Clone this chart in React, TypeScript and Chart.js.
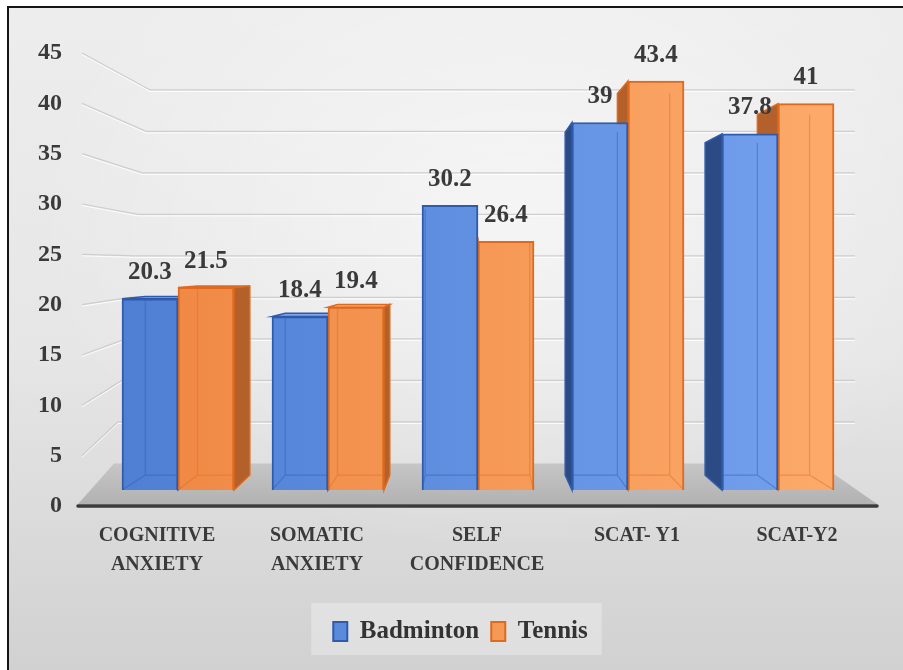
import { useEffect, useRef } from 'react';
import { Chart, registerables } from 'chart.js';

Chart.register(...registerables);

// ---- data ----
const categories: string[][] = [
  ['COGNITIVE', 'ANXIETY'],
  ['SOMATIC', 'ANXIETY'],
  ['SELF', 'CONFIDENCE'],
  ['SCAT- Y1'],
  ['SCAT-Y2'],
];
const seriesNames = ['Badminton', 'Tennis'];
const badminton = [20.3, 18.4, 30.2, 39, 37.8];
const tennis = [21.5, 19.4, 26.4, 43.4, 41];
const yTickMin = 0;
const yTickMax = 45;
const yTickStep = 5;

// ---- style / geometry constants ----
const FONT = 'Liberation Serif';
const TEXT = '#3a3a3a';
const VP = { x: 470, y: 267 }; // perspective vanishing point
const BAR_DEPTH = 0.933;
const WALL_DEPTH = 0.881;
const sideColors = ['#2c4b84', '#b3602a'];
const topColors = ['#7ea6ec', '#f9b07a'];
const borderColors = ['#2e5bab', '#dd6a1e'];

function proj(px: number, py: number, s: number): [number, number] {
  return [VP.x + s * (px - VP.x), VP.y + s * (py - VP.y)];
}

function makeFill(c0: string, c1: string) {
  return (ctx: any) => {
    const chart = ctx.chart;
    const a = chart.chartArea;
    if (!a) return c0;
    const g = chart.ctx.createLinearGradient(a.left, 0, a.right, 0);
    g.addColorStop(0, c0);
    g.addColorStop(1, c1);
    return g;
  };
}

const scenePlugin = {
  id: 'scene3d',
  afterLayout(chart: any) {
    const lg = chart.legend;
    if (lg) {
      lg.left += 22;
      lg.right += 22;
    }
  },
  beforeDraw(chart: any) {
    const lg = chart.legend;
    if (!lg || !lg.legendHitBoxes || !lg.legendHitBoxes.length) return;
    const hb = lg.legendHitBoxes;
    const first = hb[0];
    const last = hb[hb.length - 1];
    const ctx = chart.ctx;
    ctx.save();
    ctx.fillStyle = 'rgba(255,255,255,0.30)';
    const l = first.left - 22;
    const r = last.left + last.width + 14;
    const t = first.top - 16;
    ctx.fillRect(l, t, r - l, 52);
    ctx.restore();
  },
  beforeDatasetsDraw(chart: any) {
    const ctx = chart.ctx;
    const yT = chart.scales.y;
    const yB = chart.scales.yb;
    const area = chart.chartArea;
    const frontL = area.left + 1;
    const frontR = area.right;
    const floorFront = yT.getPixelForValue(0) - 2;
    const floorBack = proj(0, yB.getPixelForValue(0), WALL_DEPTH)[1];
    ctx.save();
    // floor
    const fg = ctx.createLinearGradient(0, floorBack, 0, floorFront);
    fg.addColorStop(0, '#c6c6c6');
    fg.addColorStop(1, '#b2b2b2');
    ctx.fillStyle = fg;
    ctx.beginPath();
    ctx.moveTo(frontL, floorFront);
    ctx.lineTo(frontR, floorFront);
    ctx.lineTo(frontR - 58, floorBack);
    ctx.lineTo(frontL + 36, floorBack);
    ctx.closePath();
    ctx.fill();
    // gridlines (left wall + back wall)
    for (let v = yTickMin + yTickStep; v <= yTickMax; v += yTickStep) {
      const fy = yT.getPixelForValue(v);
      const by = proj(0, yB.getPixelForValue(v), WALL_DEPTH)[1];
      const bx = frontL + 36 + (v / yTickMax) * 36;
      ctx.strokeStyle = 'rgba(200,200,200,0.85)';
      ctx.lineWidth = 1.2;
      ctx.beginPath();
      ctx.moveTo(frontL + 4, fy);
      ctx.lineTo(bx, by);
      ctx.lineTo(frontR - 22, by);
      ctx.stroke();
      ctx.strokeStyle = 'rgba(255,255,255,0.85)';
      ctx.lineWidth = 1;
      ctx.beginPath();
      ctx.moveTo(frontL + 4, fy + 1.5);
      ctx.lineTo(bx, by + 1.5);
      ctx.lineTo(frontR - 22, by + 1.5);
      ctx.stroke();
    }
    // axis line
    ctx.strokeStyle = '#3a3a3a';
    ctx.lineWidth = 3.5;
    ctx.lineCap = 'round';
    ctx.beginPath();
    ctx.moveTo(frontL, floorFront + 2);
    ctx.lineTo(frontR, floorFront + 2);
    ctx.stroke();
    // bar side / top faces
    chart.data.datasets.forEach((_ds: any, di: number) => {
      const meta = chart.getDatasetMeta(di);
      meta.data.forEach((bar: any) => {
        const { x, y, base, width } = bar.getProps(['x', 'y', 'base', 'width'], true);
        const x0 = x - width / 2;
        const x1 = x + width / 2;
        const [bx0, by] = proj(x0, y, BAR_DEPTH);
        const [bx1] = proj(x1, y, BAR_DEPTH);
        const [, bb] = proj(x0, base, BAR_DEPTH);
        ctx.fillStyle = sideColors[di];
        ctx.strokeStyle = borderColors[di];
        ctx.lineWidth = 1.5;
        if (bx1 > x1 + 0.5) {
          ctx.beginPath();
          ctx.moveTo(x1, y);
          ctx.lineTo(bx1, by);
          ctx.lineTo(bx1, bb);
          ctx.lineTo(x1, base);
          ctx.closePath();
          ctx.fill();
          ctx.stroke();
        }
        if (bx0 < x0 - 0.5) {
          ctx.beginPath();
          ctx.moveTo(x0, y);
          ctx.lineTo(bx0, by);
          ctx.lineTo(bx0, bb);
          ctx.lineTo(x0, base);
          ctx.closePath();
          ctx.fill();
          ctx.stroke();
        }
        if (by < y - 0.3) {
          ctx.fillStyle = topColors[di];
          ctx.beginPath();
          ctx.moveTo(x0, y);
          ctx.lineTo(x1, y);
          ctx.lineTo(bx1, by);
          ctx.lineTo(bx0, by);
          ctx.closePath();
          ctx.fill();
          ctx.stroke();
        }
      });
    });
    ctx.restore();
  },
  afterDatasetsDraw(chart: any) {
    const ctx = chart.ctx;
    ctx.save();
    chart.data.datasets.forEach((ds: any, di: number) => {
      const meta = chart.getDatasetMeta(di);
      meta.data.forEach((bar: any, i: number) => {
        const { x, y, base, width } = bar.getProps(['x', 'y', 'base', 'width'], true);
        const x0 = x - width / 2;
        const x1 = x + width / 2;
        const [bx0, by] = proj(x0, y, BAR_DEPTH);
        const [bx1] = proj(x1, y, BAR_DEPTH);
        const [, bb] = proj(x0, base, BAR_DEPTH);
        // glass-like back edges
        ctx.save();
        ctx.beginPath();
        ctx.rect(x0, y, width, base - y);
        ctx.clip();
        ctx.strokeStyle = borderColors[di];
        ctx.globalAlpha = 0.45;
        ctx.lineWidth = 1.2;
        ctx.beginPath();
        ctx.moveTo(bx0, Math.max(by, y));
        ctx.lineTo(bx0, bb);
        ctx.lineTo(bx1, bb);
        ctx.lineTo(bx1, Math.max(by, y));
        ctx.moveTo(x0, base);
        ctx.lineTo(bx0, bb);
        ctx.moveTo(x1, base);
        ctx.lineTo(bx1, bb);
        ctx.stroke();
        ctx.restore();
        // value label
        const v = ds.data[i].y;
        ctx.fillStyle = TEXT;
        ctx.font = `bold 25px "${FONT}"`;
        ctx.textAlign = 'center';
        ctx.textBaseline = 'middle';
        ctx.fillText(String(v), x, y - 26);
      });
    });
    ctx.restore();
  },
};

export default function App() {
  const ref = useRef<HTMLCanvasElement>(null);
  useEffect(() => {
    if (!ref.current) return;
    const chart = new Chart(ref.current, {
      type: 'bar',
      data: {
        labels: categories as any,
        datasets: [
          {
            label: seriesNames[0],
            data: badminton.map((v, i) => ({ x: i, y: v })),
            xAxisID: 'xb',
            yAxisID: 'yb',
            backgroundColor: makeFill('#4c7dd2', '#76a3f0') as any,
            borderColor: borderColors[0],
            borderWidth: 2,
            barThickness: 56,
          },
          {
            label: seriesNames[1],
            data: tennis.map((v, i) => ({ x: i, y: v })),
            xAxisID: 'xb',
            yAxisID: 'yb',
            backgroundColor: makeFill('#ee8440', '#fdac6c') as any,
            borderColor: borderColors[1],
            borderWidth: 2,
            barThickness: 56,
          },
        ],
      },
      options: {
        animation: false,
        responsive: false,
        maintainAspectRatio: false,
        layout: { padding: { top: 53, left: 0, right: 26, bottom: 16 } },
        plugins: {
          tooltip: { enabled: false },
          legend: {
            position: 'bottom',
            labels: {
              font: { family: FONT, size: 25, weight: 'bold' },
              color: '#333333',
              boxWidth: 14,
              boxHeight: 19,
              padding: 12,
            },
          },
        },
        scales: {
          x: {
            type: 'category',
            position: 'bottom',
            offset: true,
            grid: { display: false, drawTicks: false },
            border: { display: false },
            ticks: {
              color: TEXT,
              padding: 15,
              autoSkip: false,
              maxRotation: 0,
              font: { family: FONT, size: 20, weight: 'bold', lineHeight: 1.45 },
            },
            afterFit: (s: any) => {
              s.height = 101;
            },
          },
          xb: {
            type: 'linear',
            display: false,
            offset: false,
            grid: { offset: false },
            min: -0.6733,
            max: 4.66,
          },
          y: {
            type: 'linear',
            position: 'left',
            min: yTickMin,
            max: yTickMax,
            grid: { display: false, drawTicks: false },
            border: { display: false },
            ticks: {
              stepSize: yTickStep,
              color: TEXT,
              padding: 15,
              font: { family: FONT, size: 24, weight: 'bold' },
            },
            afterFit: (s: any) => {
              s.width = 77;
            },
          },
          yb: {
            type: 'linear',
            display: false,
            min: -1.7,
            max: 46.38,
          },
        },
      } as any,
      plugins: [scenePlugin],
    });
    return () => chart.destroy();
  }, []);

  return (
    <div
      style={{
        position: 'fixed',
        left: 0,
        top: 0,
        width: 903,
        height: 670,
        background: '#ffffff',
        overflow: 'hidden',
      }}
    >
      <div
        style={{
          position: 'absolute',
          left: 7,
          top: 6,
          width: 920,
          height: 690,
          borderTop: '2px solid #151515',
          borderLeft: '2px solid #151515',
          background:
            'radial-gradient(ellipse 70% 65% at 55% 30%, rgba(255,255,255,0.55) 0%, rgba(255,255,255,0) 75%), linear-gradient(to bottom, #ededed 0%, #e6e6e6 50%, #cfcfcf 100%)',
        }}
      />
      <canvas
        ref={ref}
        width={903}
        height={670}
        style={{ position: 'absolute', left: 0, top: 0, width: 903, height: 670 }}
      />
    </div>
  );
}
